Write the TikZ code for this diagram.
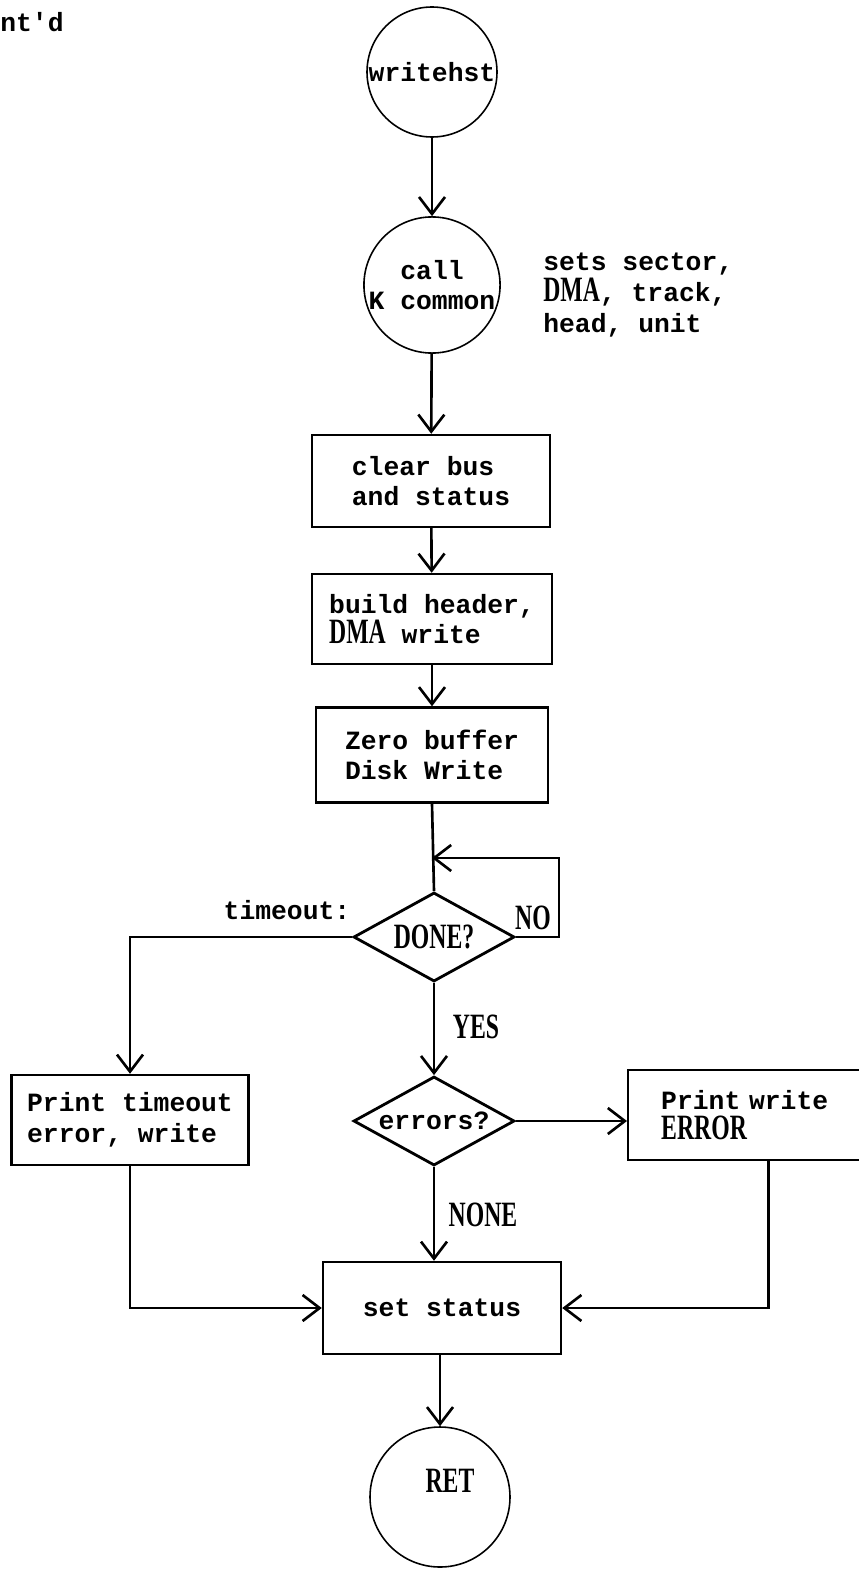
\documentclass[tikz,border=0pt]{standalone}
\usepackage{fontspec}
\setmainfont{Liberation Mono}
\newfontfamily\capsfamily{Liberation Serif}
\usetikzlibrary{shapes.geometric, arrows.meta}
\newcommand{\capword}[1]{{\capsfamily\bfseries\scalebox{0.9}[1.35]{#1}}}

\begin{document}
\begin{tikzpicture}[
    font=\fontsize{15}{17.5}\selectfont\bfseries,
    >={Straight Barb[length=3.4mm, width=5.2mm]},
    term/.style={
        draw, circle, line width=0.9pt, inner sep=0pt, minimum size=2.6cm, align=center
    },
    proc/.style={
        draw, line width=1.4pt, minimum width=4.76cm, minimum height=1.84cm, align=left
    },
    dec/.style={
        draw, diamond, aspect=1.8, line width=1.6pt, inner sep=0pt, minimum width=3.22cm, minimum height=1.78cm
    },
    flow/.style={->, line width=1.5pt},
    wire/.style={line width=1.5pt},
    tag/.style={inner sep=1pt}
]

% PAGE (858 x 1572 px at 0.02cm)
\useasboundingbox (0,0) rectangle (17.16,-31.44);

\node[anchor=west, inner sep=0pt] (contd) at (0,-0.44) {nt\textquotesingle d};

% TERMINALS
\node[term] (start) at (8.64,-1.44) {writehst};
\node[term, minimum size=2.5cm] (kcall) at (8.64,-5.70) {call\\K common};
\node[anchor=west, align=left, inner sep=0pt] (note) at (10.86,-5.90) {sets sector,\\\capword{DMA}, track,\\head, unit};

% ACTIVITIES
\node[proc] (clear) at (8.62,-9.62) {clear bus\\and status};
\node[proc, minimum width=4.8cm, minimum height=1.8cm] (build) at (8.64,-12.38) {build header,\\\capword{DMA} write};
\node[proc, minimum width=4.64cm, minimum height=1.9cm] (zero) at (8.64,-15.10) {Zero buffer\\Disk Write};

% DECISIONS
\coordinate (join) at (8.64,-17.16);
\node[dec] (done) at (8.68,-18.74) {\capword{DONE?}};
\node[dec] (errs) at (8.68,-22.42) {errors?};

\node[proc, minimum width=4.74cm, minimum height=1.8cm] (tmo) at (2.60,-22.40) {Print timeout\\error, write};
\node[proc, anchor=west, text width=4.3cm, inner xsep=0.66cm, minimum height=1.8cm] (werr) at (12.54,-22.30) {Print write\\\capword{ERROR}};

\node[proc] (stat) at (8.84,-26.16) {set status};
\node[term, minimum size=2.8cm] (ret) at (8.80,-29.94) {};
\node[tag] (retlbl) at (9.0,-29.62) {\capword{RET}};

% FLOWS
\draw[flow] (start) -- (kcall);
\draw[flow] (kcall) -- (clear);
\draw[flow] (clear) -- (build);
\draw[flow] (build) -- (zero);
\draw[wire] (zero.south) -- (done.north);

% NO: wait and test again
\coordinate (loopc) at (11.18,-18.74);
\draw[flow] (done.east) -- (loopc) -- (loopc |- join) -- (join);
\node[tag] (nolbl) at (10.66,-18.36) {\capword{NO}};

% timeout
\draw[flow] (done.west) -| (tmo.north);
\node[inner sep=0pt] (tolbl) at (5.74,-18.20) {timeout:};

% YES
\draw[flow] (done.south) -- (errs.north);
\node[tag] (yeslbl) at (9.52,-20.54) {\capword{YES}};

\draw[flow] (errs.east) -- (errs.east -| werr.west);

% NONE
\draw[flow] (errs.south) -- (errs.south |- stat.north);
\node[tag] (nonelbl) at (9.66,-24.30) {\capword{NONE}};

\draw[flow] (tmo.south) |- (stat.west);
\draw[flow] (werr.south) |- (stat.east);

\draw[flow] (ret.north |- stat.south) -- (ret.north);

\end{tikzpicture}
\end{document}
